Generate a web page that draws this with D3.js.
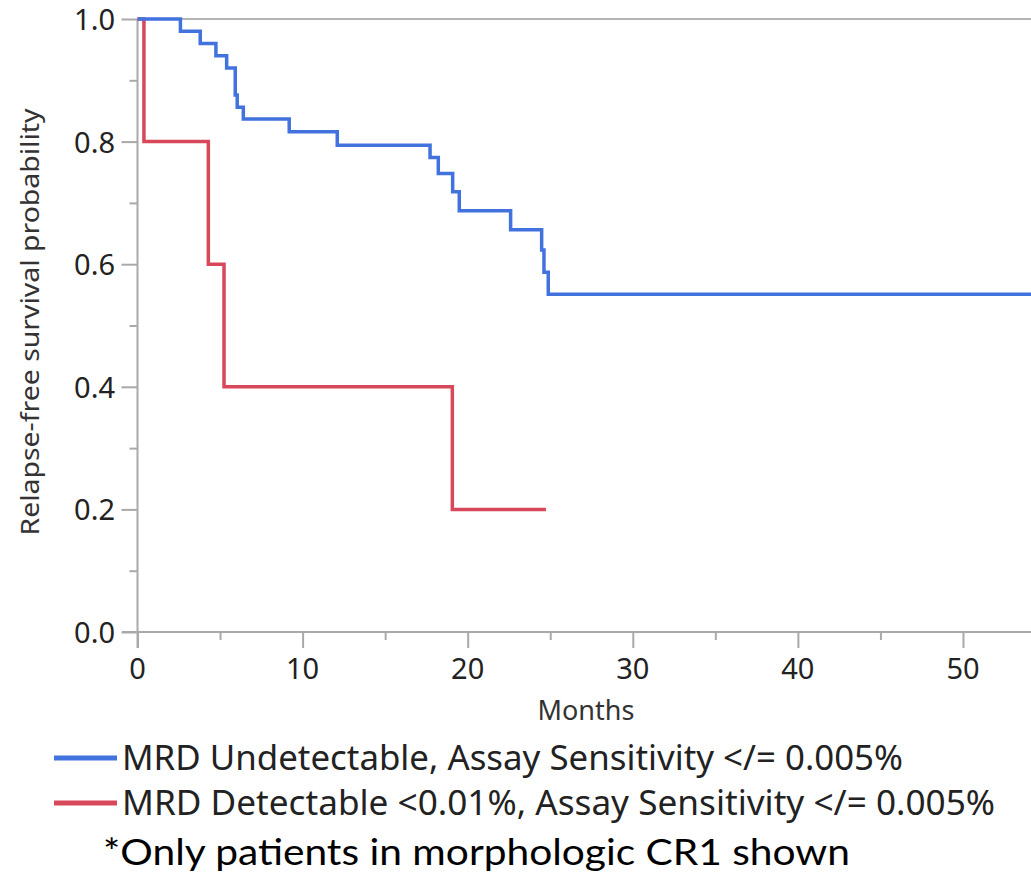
<!DOCTYPE html>
<html>
<head>
<meta charset="utf-8">
<script src="https://cdn.jsdelivr.net/npm/d3@7"></script>
<style>
  body { margin: 0; background: #fff; }
  svg { display: block; }
</style>
</head>
<body>
<div id="chart"></div>
<script>
// Kaplan-Meier steps (months, probability after the step)
var undetTimes = [0, 2.6, 3.8, 4.75, 5.4, 5.92, 6.04, 6.41, 9.19, 12.1, 17.72, 18.22, 19.09, 19.49, 22.6, 24.48, 24.62, 24.88, 54.2];
var undetSurv  = [1.0, 0.98, 0.96, 0.94, 0.92, 0.876, 0.856, 0.837, 0.816, 0.794, 0.774, 0.748, 0.718, 0.687, 0.656, 0.623, 0.587, 0.551, 0.551];

var detTimes = [0, 0.39, 4.29, 5.24, 19.07, 24.74];
var detSurv  = [1.0, 0.8, 0.6, 0.4, 0.2, 0.2];

var xTicks = [0, 10, 20, 30, 40, 50];
var yTicks = [0, 0.2, 0.4, 0.6, 0.8, 1.0];

var legendLabels = [
  "MRD Undetectable, Assay Sensitivity </= 0.005%",
  "MRD Detectable <0.01%, Assay Sensitivity </= 0.005%"
];
var footnote = "*Only patients in morphologic CR1 shown";

var colors = ["#4272de", "#d8485b"];

var W = 1031, H = 873;
var svg = d3.select("#chart").append("svg")
  .attr("width", W).attr("height", H);

var x = d3.scaleLinear().domain([0, 54.12]).range([137.5, 1031]);
var y = d3.scaleLinear().domain([0, 1]).range([632, 19]);

var axisColor = "#a9a9a9";
var font = "'Noto Sans', sans-serif";

// top frame line
svg.append("line")
  .attr("x1", x(0)).attr("x2", W)
  .attr("y1", y(1)).attr("y2", y(1))
  .attr("stroke", "#b4b4b4").attr("stroke-width", 2);

// y axis
var yAxis = svg.append("g")
  .attr("transform", "translate(" + x(0) + ",0)")
  .call(d3.axisLeft(y).tickValues(d3.range(0, 1.01, 0.1)).tickFormat("").tickSize(8).tickSizeOuter(0));
yAxis.selectAll("line").attr("stroke", axisColor).attr("stroke-width", 2);
yAxis.select(".domain").remove();
yAxis.selectAll(".tick line").filter(function(d) { return Math.abs(d * 5 - Math.round(d * 5)) < 1e-6; })
  .attr("x2", -16);
svg.append("line")
  .attr("x1", x(0)).attr("x2", x(0))
  .attr("y1", y(1)).attr("y2", 648)
  .attr("stroke", axisColor).attr("stroke-width", 2);
svg.append("g").selectAll("text")
  .data(yTicks).enter().append("text")
  .attr("x", 115).attr("y", function(d) { return y(d) + 11; })
  .attr("text-anchor", "end")
  .attr("font-family", font).attr("font-size", 29).attr("fill", "#222")
  .text(function(d) { return d.toFixed(1); });

// x axis
var xAxis = svg.append("g")
  .attr("transform", "translate(0," + y(0) + ")")
  .call(d3.axisBottom(x).tickValues(d3.range(0, 55, 5)).tickFormat("").tickSize(8).tickSizeOuter(0));
xAxis.select(".domain").remove();
xAxis.selectAll("line").attr("stroke", axisColor).attr("stroke-width", 2);
xAxis.selectAll(".tick line").filter(function(d) { return d % 10 === 0; })
  .attr("y2", 16);
svg.append("line")
  .attr("x1", 122).attr("x2", W)
  .attr("y1", y(0)).attr("y2", y(0))
  .attr("stroke", axisColor).attr("stroke-width", 2);
svg.append("g").selectAll("text")
  .data(xTicks).enter().append("text")
  .attr("x", function(d) { return x(d); }).attr("y", 679)
  .attr("text-anchor", "middle")
  .attr("font-family", font).attr("font-size", 29).attr("fill", "#222")
  .text(function(d) { return d; });

// axis titles
svg.append("text")
  .attr("x", 586).attr("y", 720)
  .attr("text-anchor", "middle")
  .attr("font-family", font).attr("font-size", 27).attr("fill", "#333")
  .text("Months");
svg.append("text")
  .attr("transform", "translate(39,322) rotate(-90)")
  .attr("text-anchor", "middle")
  .attr("font-family", font).attr("font-size", 26).attr("fill", "#333")
  .attr("textLength", 427).attr("lengthAdjust", "spacingAndGlyphs")
  .text("Relapse-free survival probability");

// survival curves
var line = d3.line()
  .x(function(d) { return x(d[0]); })
  .y(function(d) { return y(d[1]); })
  .curve(d3.curveStepAfter);

var series = [d3.zip(undetTimes, undetSurv), d3.zip(detTimes, detSurv)];

svg.append("g").selectAll("path")
  .data(series.slice().reverse()).enter().append("path")
  .attr("d", line)
  .attr("fill", "none")
  .attr("stroke", function(d, i) { return colors[1 - i]; })
  .attr("stroke-width", 3.5);

// legend
var legendY = [758, 803];
var legendW = [781, 873];
var leg = svg.append("g");
leg.selectAll("line")
  .data(legendLabels).enter().append("line")
  .attr("x1", 54).attr("x2", 117)
  .attr("y1", function(d, i) { return legendY[i]; })
  .attr("y2", function(d, i) { return legendY[i]; })
  .attr("stroke", function(d, i) { return colors[i]; })
  .attr("stroke-width", 5);
leg.selectAll("text")
  .data(legendLabels).enter().append("text")
  .attr("x", 122).attr("y", function(d, i) { return legendY[i] + 12; })
  .attr("font-family", font).attr("font-size", 34).attr("fill", "#222")
  .attr("textLength", function(d, i) { return legendW[i]; })
  .attr("lengthAdjust", "spacingAndGlyphs")
  .text(function(d) { return d; });

svg.append("text")
  .attr("x", 103).attr("y", 865)
  .attr("font-family", "Lato, sans-serif").attr("font-size", 36).attr("fill", "#000")
  .attr("textLength", 747).attr("lengthAdjust", "spacingAndGlyphs")
  .text(footnote);
</script>
</body>
</html>
